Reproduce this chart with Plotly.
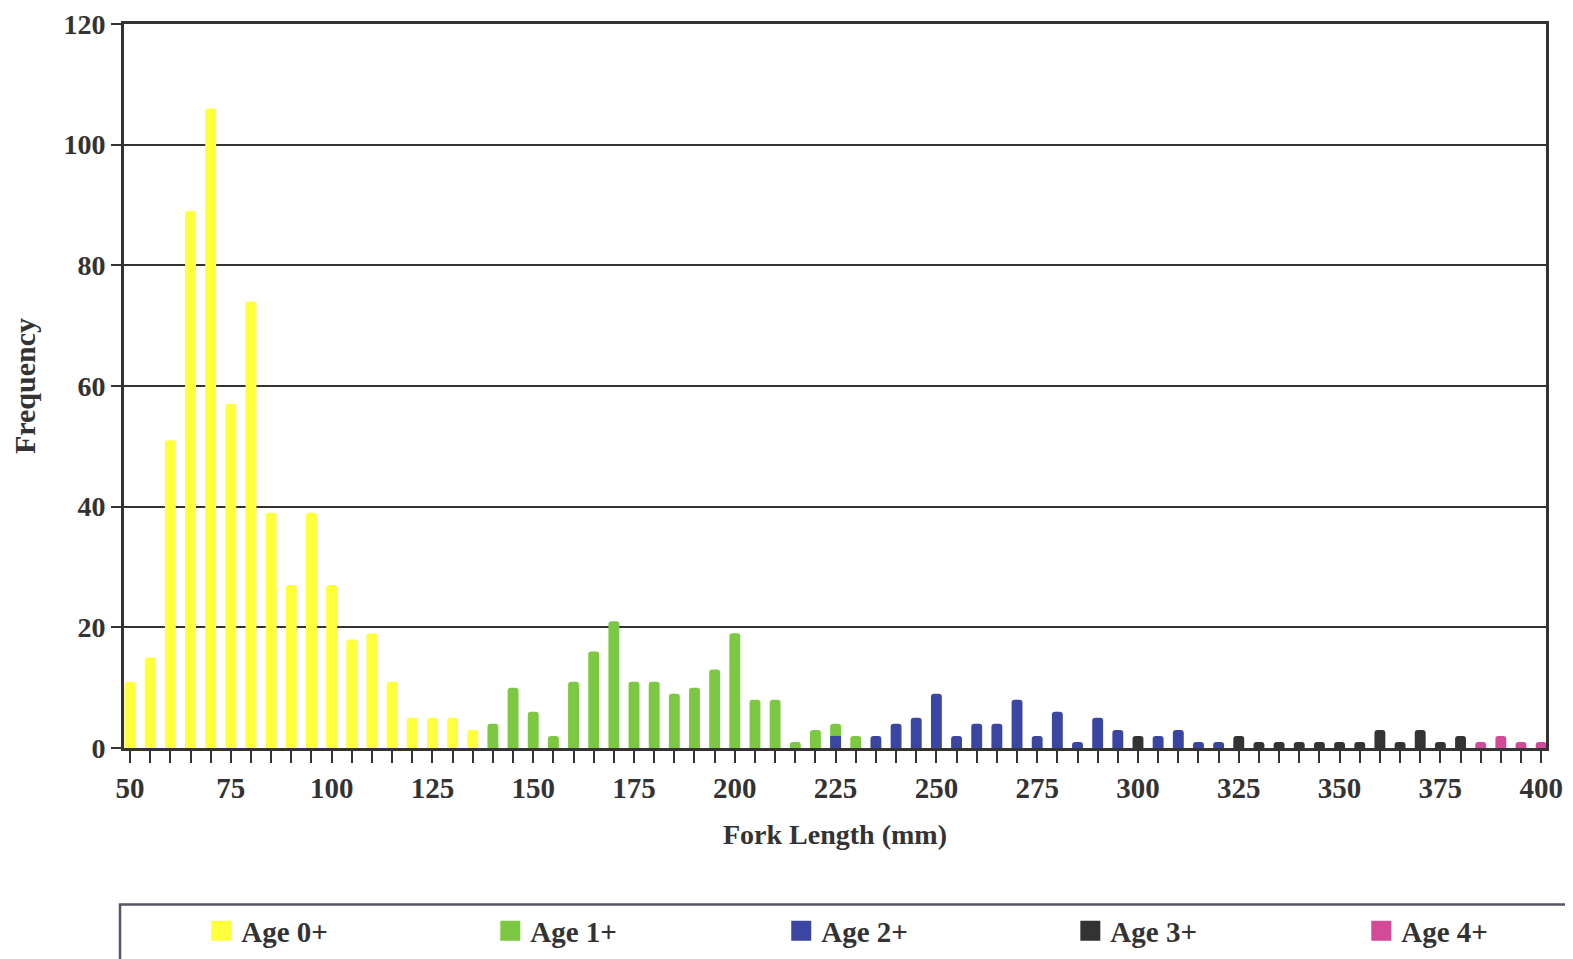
import plotly.graph_objects as go

# ---- data ----
age0_len = [50, 55, 60, 65, 70, 75, 80, 85, 90, 95, 100, 105, 110, 115, 120, 125, 130, 135]
age0_freq = [11, 15, 51, 89, 106, 57, 74, 39, 27, 39, 27, 18, 19, 11, 5, 5, 5, 3]

age1_len = [140, 145, 150, 155, 160, 165, 170, 175, 180, 185, 190, 195, 200, 205, 210, 215, 220, 225, 230]
age1_freq = [4, 10, 6, 2, 11, 16, 21, 11, 11, 9, 10, 13, 19, 8, 8, 1, 3, 4, 2]

age2_len = [225, 235, 240, 245, 250, 255, 260, 265, 270, 275, 280, 285, 290, 295, 305, 310, 315, 320]
age2_freq = [2, 2, 4, 5, 9, 2, 4, 4, 8, 2, 6, 1, 5, 3, 2, 3, 1, 1]

age3_len = [300, 325, 330, 335, 340, 345, 350, 355, 360, 365, 370, 375, 380]
age3_freq = [2, 2, 1, 1, 1, 1, 1, 1, 3, 1, 3, 1, 2]

age4_len = [385, 390, 395, 400]
age4_freq = [1, 2, 1, 1]

series_names = ["Age 0+", "Age 1+", "Age 2+", "Age 3+", "Age 4+"]
series_colors = ["#FFFF3C", "#7DC842", "#3B46A2", "#333333", "#D24A98"]
series_x = [age0_len, age1_len, age2_len, age3_len, age4_len]
series_y = [age0_freq, age1_freq, age2_freq, age3_freq, age4_freq]

x_tick_vals = [50, 75, 100, 125, 150, 175, 200, 225, 250, 275, 300, 325, 350, 375, 400]
y_tick_vals = [0, 20, 40, 60, 80, 100, 120]

# legend entry left positions (paper fraction)
legend_x = [0.0543, 0.2576, 0.4622, 0.6655, 0.8701]

FONT = "Liberation Serif"
AXC = "#333333"
TXT = "#333333"

fig = go.Figure()
for name, col, xs, ys in zip(series_names, series_colors, series_x, series_y):
    fig.add_trace(go.Bar(x=xs, y=ys, name=name, marker=dict(color=col, line=dict(width=0)),
                         width=2.7, showlegend=False))

legend_layout = {}
for i, (name, col, lx) in enumerate(zip(series_names, series_colors, legend_x)):
    key = "legend" if i == 0 else f"legend{i + 1}"
    fig.add_trace(go.Scatter(x=[None], y=[None], mode="markers", name=name, legend=key,
                             marker=dict(symbol="square", size=16, color=col,
                                         line=dict(color=col, width=4))))
    legend_layout[key] = dict(orientation="h", x=lx, xanchor="left", y=-0.2175, yanchor="top",
                              itemsizing="trace", bgcolor="rgba(0,0,0,0)",
                              font=dict(family=FONT, size=29, color=TXT, weight="bold"))

fig.update_layout(
    width=1573, height=959,
    margin=dict(l=116, r=35, t=16, b=219, autoexpand=False),
    paper_bgcolor="white", plot_bgcolor="white",
    barmode="overlay", barcornerradius=3,
    font=dict(family=FONT, color=TXT, size=26, weight="bold"),
    showlegend=True,
    xaxis=dict(range=[48.5, 401.2], tickvals=x_tick_vals, ticks="outside", ticklen=12,
               tickwidth=1.5, tickcolor=AXC, showgrid=False, zeroline=False,
               showline=True, linecolor=AXC, linewidth=2.5, mirror=True,
               ticklabelstandoff=0, ticklabeloverflow="allow",
               tickfont=dict(family=FONT, size=29, color=TXT, weight="bold"),
               minor=dict(dtick=5, tick0=50, ticks="outside", ticklen=12, tickwidth=1.5,
                          tickcolor=AXC, showgrid=False),
               title=dict(text="Fork Length (mm)", standoff=22,
                          font=dict(family=FONT, size=28, color=TXT, weight="bold"))),
    yaxis=dict(range=[0, 120], tickvals=y_tick_vals, ticks="outside", ticklen=10,
               tickwidth=2, tickcolor=AXC, showgrid=True, gridcolor=AXC, gridwidth=2,
               zeroline=False, showline=True, linecolor=AXC, linewidth=3, mirror=True,
               ticklabeloverflow="allow",
               tickfont=dict(family=FONT, size=28, color=TXT, weight="bold"),
               title=dict(text="Frequency", standoff=20,
                          font=dict(family=FONT, size=30, color=TXT, weight="bold"))),
    shapes=[dict(type="rect", xref="paper", yref="paper", x0=-0.0028, x1=1.03,
                 y0=-0.216, y1=-0.32, line=dict(color="#555566", width=2.5),
                 fillcolor="rgba(0,0,0,0)", layer="below")],
    **legend_layout,
)

fig.write_html("out.html")
